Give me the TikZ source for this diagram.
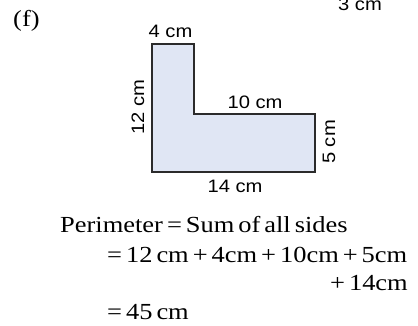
\documentclass[tikz,border=0pt]{standalone}
\usepackage{fontspec}
\setmainfont[FakeStretch=1.15, WordSpace=0.6]{Liberation Serif}
\newfontfamily\sidefont[FakeStretch=1.12]{Liberation Sans}
\usetikzlibrary{positioning}
\definecolor{shapefill}{HTML}{E0E6F4}
\definecolor{edge}{HTML}{2B2B2B}

\begin{document}
\begin{tikzpicture}[x=1pt, y=-1pt,
    side/.style={font=\sidefont\fontsize{18}{18}\selectfont, inner sep=0pt, anchor=base},
    work/.style={font=\fontsize{23}{23}\selectfont, inner sep=0pt, anchor=base west}
]
\useasboundingbox (0,0) rectangle (418,326);

\node[work] (part) at (13,27) {(f)};
\node[side] (prev) at (360,11) {3 cm};

\draw[fill=shapefill, draw=edge, line width=1.6pt]
    (152,44) -- (194,44) -- (194,114) -- (315,114) -- (315,172) -- (152,172) -- cycle;

\node[side] (top) at (170.5,38) {4 cm};
\node[side, rotate=90] (left) at (144,107) {12 cm};
\node[side] (step) at (255,109) {10 cm};
\node[side, rotate=90] (right) at (335,142) {5 cm};
\node[side] (bottom) at (235,193) {14 cm};

\node[work] (l1) at (60,233) {Perimeter = Sum of all sides};
\node[work] (l2) at (107,262) {= 12 cm + 4cm + 10cm + 5cm};
\node[work, anchor=base east] (l3) at (408,290) {+ 14cm};
\node[work] (l4) at (107,319) {= 45 cm};
\end{tikzpicture}
\end{document}
